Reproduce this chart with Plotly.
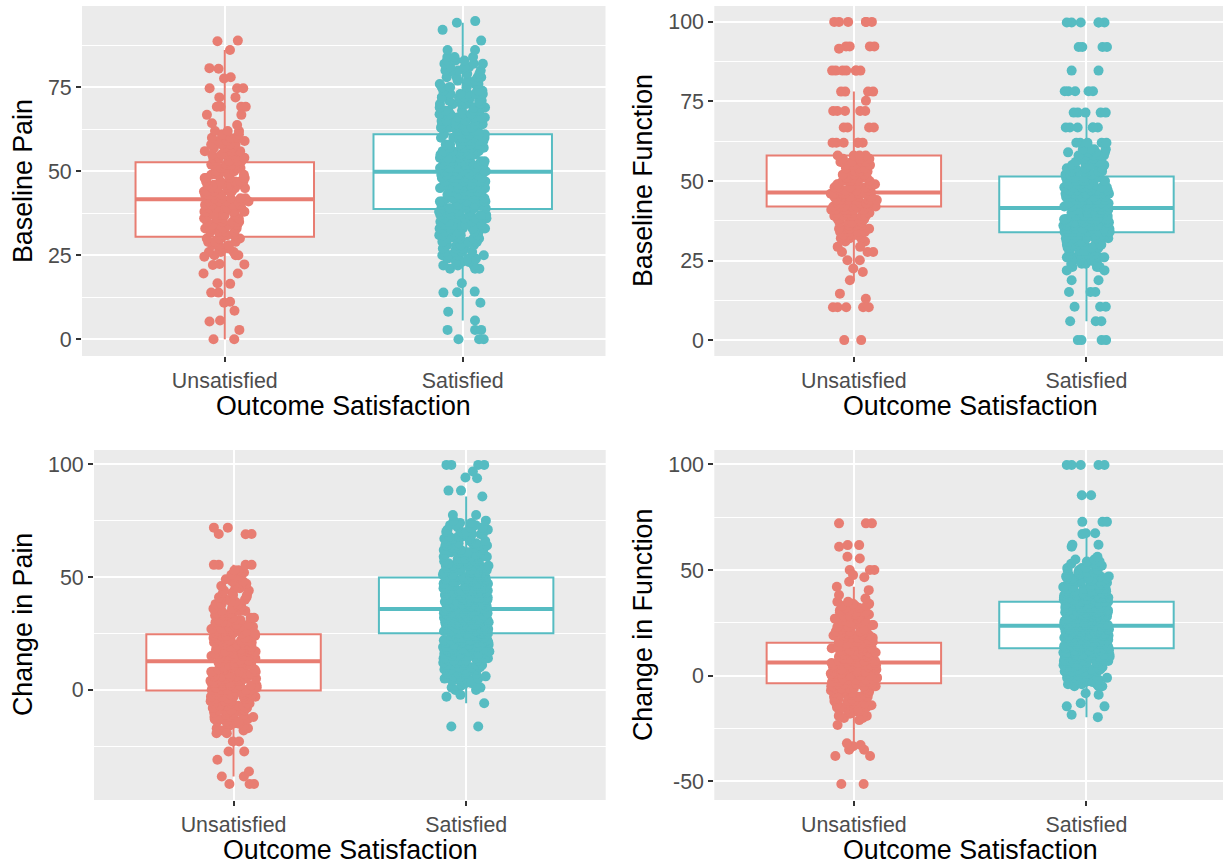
import plotly.graph_objects as go

W, H = 1223, 865
CATS = ["Unsatisfied", "Satisfied"]
COL_UNSAT = "#E87D72"
COL_SAT = "#56BCC2"
FONT = "Liberation Sans, Arial, Helvetica, sans-serif"

Y_TITLES = ["Baseline Pain", "Baseline Function", "Change in Pain", "Change in Function"]
X_TITLE = "Outcome Satisfaction"

# Y tick labels per panel
TICKS_BASE_PAIN = [0, 25, 50, 75]
TICKS_BASE_FUNC = [0, 25, 50, 75, 100]
TICKS_CHG_PAIN = [0, 50, 100]
TICKS_CHG_FUNC = [-50, 0, 50, 100]

# Box statistics: [lower whisker, q1, median, q3, upper whisker]
BOX_BASE_PAIN_UNSAT = [0.0, 30.5, 41.7, 52.7, 86.1]
BOX_BASE_PAIN_SAT = [5.6, 38.8, 49.9, 61.0, 94.2]
BOX_BASE_FUNC_UNSAT = [18.8, 42.0, 46.4, 58.0, 78.1]
BOX_BASE_FUNC_SAT = [5.9, 33.9, 41.5, 51.4, 71.5]
BOX_CHG_PAIN_UNSAT = [-38.4, -0.3, 12.7, 24.7, 55.4]
BOX_CHG_PAIN_SAT = [-5.9, 25.1, 35.8, 49.8, 85.7]
BOX_CHG_FUNC_UNSAT = [-32.0, -3.6, 6.2, 15.6, 42.1]
BOX_CHG_FUNC_SAT = [-19.6, 13.0, 23.7, 35.0, 67.4]

# Observations as (value, number of patients with that value), read from the jittered clouds.
# *_CORE: the dense part of each cloud; *_TAIL: the sparser points read individually.
BASE_PAIN_UNSAT_CORE = [
    (62, 3), (61, 3), (60, 4), (59, 3), (58, 4), (57, 3), (56, 4), (55, 4), (54, 4), (53, 4), (52, 5),
    (51, 5), (50, 5), (49, 5), (48, 5), (47, 5), (46, 5), (45, 5), (44, 5), (43, 5), (42, 6), (41, 6),
    (40, 6), (39, 5), (38, 5), (37, 5), (36, 5), (35, 5), (34, 4), (33, 5), (32, 4), (31, 4), (30, 4),
    (29, 3), (28, 3), (27, 3), (26, 3), (25, 3),
]
BASE_PAIN_UNSAT_TAIL = [
    (88.9, 1), (88.7, 1), (86.1, 1), (80.7, 1), (80.5, 1), (78.0, 1), (77.6, 1), (74.7, 3), (72.0, 2),
    (69.2, 4), (66.8, 2), (64.3, 1), (63.8, 1),
    (24.6, 1), (22.4, 1), (22.3, 1), (22.1, 1), (19.6, 2), (16.7, 1), (16.5, 1), (13.9, 2), (11.2, 1),
    (10.9, 1), (8.5, 1), (5.6, 1), (5.3, 1), (2.8, 1), (0.0, 2),
]
BASE_PAIN_SAT_CORE = [
    (84, 3), (83, 3), (82, 3), (81, 3), (80, 4), (79, 3), (78, 4), (77, 4), (76, 4), (75, 4), (74, 4),
    (73, 5), (72, 5), (71, 5), (70, 5), (69, 5), (68, 5), (67, 6), (66, 6), (65, 6), (64, 6), (63, 7),
    (62, 7), (61, 7), (60, 8), (59, 8), (58, 8), (57, 8), (56, 8), (55, 8), (54, 8), (53, 8), (52, 8),
    (51, 8), (50, 9), (49, 9), (48, 8), (47, 9), (46, 8), (45, 9), (44, 8), (43, 8), (42, 8), (41, 8),
    (40, 8), (39, 8), (38, 7), (37, 7), (36, 6), (35, 6), (34, 6), (33, 6), (32, 5), (31, 5), (30, 5),
    (29, 5), (28, 4), (27, 4), (26, 4), (25, 4), (24, 4), (23, 3), (22, 3), (21, 3),
]
BASE_PAIN_SAT_TAIL = [
    (94.7, 1), (94.2, 1), (92.1, 1), (88.9, 1), (86.1, 2),
    (16.7, 1), (14.2, 1), (14.0, 1), (13.9, 1), (10.9, 1), (8.2, 1), (5.6, 1), (2.8, 3), (0.0, 3),
]
BASE_FUNC_UNSAT_CORE = [
    (58, 4), (57, 4), (56, 4), (55, 4), (54, 5), (53, 5), (52, 5), (51, 5), (50, 6), (49, 6), (48, 6),
    (47, 7), (46, 8), (45, 7), (44, 7), (43, 7), (42, 8), (41, 7), (40, 6), (39, 6), (38, 6), (37, 5),
    (36, 5), (35, 4), (34, 4), (33, 4), (32, 3), (31, 3),
]
BASE_FUNC_UNSAT_TAIL = [
    (100.0, 6), (92.3, 4), (91.6, 1), (84.7, 7), (78.1, 4), (75.2, 1), (72.0, 5), (66.8, 4), (62.0, 6),
    (29.3, 2), (27.7, 3), (25.1, 2), (22.5, 1), (21.4, 1), (18.8, 1), (14.6, 1), (13.0, 1), (10.3, 5),
    (0.0, 2),
]
BASE_FUNC_SAT_CORE = [
    (60, 5), (59, 5), (58, 5), (57, 5), (56, 5), (55, 5), (54, 6), (53, 6), (52, 6), (51, 7), (50, 7),
    (49, 8), (48, 8), (47, 8), (46, 9), (45, 9), (44, 9), (43, 9), (42, 10), (41, 10), (40, 10),
    (39, 9), (38, 9), (37, 9), (36, 9), (35, 9), (34, 9), (33, 8), (32, 8), (31, 7), (30, 7), (29, 6),
    (28, 6), (27, 5), (26, 5), (25, 5), (24, 4), (23, 3),
]
BASE_FUNC_SAT_TAIL = [
    (99.8, 6), (92.1, 4), (84.7, 2), (78.2, 5), (71.5, 5), (66.8, 6), (62.0, 5),
    (21.9, 2), (18.8, 2), (15.1, 3), (10.5, 3), (5.9, 3), (0.0, 4),
]
CHG_PAIN_UNSAT_CORE = [
    (53, 2), (52, 1), (51, 1), (50, 2), (49, 1), (48, 2), (47, 2), (46, 2), (45, 2), (44, 2), (43, 2),
    (42, 2), (41, 3), (40, 2), (39, 2), (38, 3), (37, 2), (36, 3), (35, 3), (34, 3), (33, 3), (32, 3),
    (31, 3), (30, 3), (29, 3), (28, 4), (27, 4), (26, 4), (25, 4), (24, 4), (23, 4), (22, 4), (21, 4),
    (20, 4), (19, 4), (18, 5), (17, 5), (16, 5), (15, 5), (14, 5), (13, 5), (12, 5), (11, 5), (10, 5),
    (9, 5), (8, 5), (7, 5), (6, 5), (5, 5), (4, 5), (3, 5), (2, 5), (1, 5), (0, 5), (-1, 5), (-2, 5),
    (-3, 5), (-4, 4), (-5, 4), (-6, 4), (-7, 4), (-8, 4), (-9, 4), (-10, 4), (-11, 3), (-12, 3),
    (-13, 3), (-14, 3), (-15, 3), (-16, 2), (-17, 2), (-18, 2),
]
CHG_PAIN_UNSAT_TAIL = [
    (71.9, 2), (69.1, 2), (69.0, 1), (55.4, 4),
    (-19.2, 2), (-22.9, 2), (-27.3, 2), (-31.0, 1), (-36.2, 1), (-38.4, 2), (-41.7, 3),
]
CHG_PAIN_SAT_CORE = [
    (75, 2), (74, 2), (73, 3), (72, 3), (71, 3), (70, 4), (69, 4), (68, 4), (67, 4), (66, 4), (65, 4),
    (64, 5), (63, 5), (62, 5), (61, 5), (60, 5), (59, 5), (58, 5), (57, 5), (56, 6), (55, 6), (54, 6),
    (53, 6), (52, 6), (51, 6), (50, 7), (49, 7), (48, 7), (47, 7), (46, 7), (45, 7), (44, 8), (43, 8),
    (42, 8), (41, 8), (40, 8), (39, 8), (38, 9), (37, 9), (36, 9), (35, 9), (34, 9), (33, 9), (32, 9),
    (31, 9), (30, 9), (29, 9), (28, 9), (27, 9), (26, 9), (25, 9), (24, 8), (23, 8), (22, 8), (21, 8),
    (20, 7), (19, 7), (18, 7), (17, 7), (16, 6), (15, 6), (14, 6), (13, 6), (12, 5), (11, 5), (10, 5),
    (9, 5), (8, 4), (7, 4), (6, 3), (5, 3), (4, 3), (3, 2), (2, 2), (1, 2), (0, 2),
]
CHG_PAIN_SAT_TAIL = [
    (99.7, 4), (96.8, 1), (94.1, 1), (93.8, 1), (88.3, 2), (85.7, 1), (77.5, 2),
    (-2.2, 1), (-3.0, 1), (-5.9, 1), (-16.2, 2),
]
CHG_FUNC_UNSAT_CORE = [
    (35, 2), (34, 2), (33, 3), (32, 2), (31, 2), (30, 3), (29, 2), (28, 3), (27, 3), (26, 3), (25, 3),
    (24, 3), (23, 3), (22, 3), (21, 3), (20, 4), (19, 4), (18, 4), (17, 4), (16, 4), (15, 4), (14, 4),
    (13, 4), (12, 5), (11, 5), (10, 5), (9, 5), (8, 5), (7, 5), (6, 5), (5, 5), (4, 5), (3, 5), (2, 5),
    (1, 5), (0, 5), (-1, 5), (-2, 5), (-3, 5), (-4, 5), (-5, 5), (-6, 5), (-7, 4), (-8, 4), (-9, 4),
    (-10, 4), (-11, 4), (-12, 4), (-13, 4), (-14, 3), (-15, 3), (-16, 3), (-17, 3), (-18, 2), (-19, 2),
    (-20, 2),
]
CHG_FUNC_UNSAT_TAIL = [
    (72.1, 3), (61.8, 2), (61.0, 1), (56.3, 1), (55.5, 1), (50.0, 3), (47.6, 1), (46.6, 1), (44.5, 1),
    (42.1, 1), (40.5, 1), (38.2, 1), (36.5, 1),
    (-21.0, 1), (-23.3, 1), (-32.0, 1), (-32.8, 1), (-33.4, 1), (-35.0, 2), (-38.0, 2), (-51.2, 2),
]
CHG_FUNC_SAT_CORE = [
    (55, 2), (54, 2), (53, 3), (52, 3), (51, 3), (50, 4), (49, 4), (48, 4), (47, 5), (46, 5), (45, 5),
    (44, 5), (43, 5), (42, 6), (41, 6), (40, 6), (39, 6), (38, 7), (37, 7), (36, 7), (35, 8), (34, 8),
    (33, 8), (32, 8), (31, 9), (30, 9), (29, 9), (28, 9), (27, 9), (26, 9), (25, 10), (24, 10),
    (23, 10), (22, 10), (21, 10), (20, 10), (19, 10), (18, 9), (17, 9), (16, 9), (15, 9), (14, 9),
    (13, 9), (12, 8), (11, 8), (10, 8), (9, 7), (8, 7), (7, 7), (6, 6), (5, 6), (4, 5), (3, 5), (2, 5),
    (1, 4), (0, 4), (-1, 4), (-2, 4), (-3, 3), (-4, 3), (-5, 3),
]
CHG_FUNC_SAT_TAIL = [
    (99.7, 5), (85.4, 2), (72.8, 3), (67.4, 2), (67.0, 1), (62.0, 2), (61.0, 1), (56.3, 1),
    (-8.3, 1), (-9.0, 1), (-13.0, 1), (-14.5, 2), (-18.5, 1), (-19.6, 1),
]

# Per-row jitter styling so repeated-value rows do not share one identical jitter pattern
ROW_SHIFT = [0.0, 0.4, -0.4, 0.2, -0.2, 0.3, -0.3, 0.1, -0.1, 0.35]
ROW_WIDTH = [0.2, 0.15, 0.15, 0.17, 0.17, 0.16, 0.16, 0.19, 0.19, 0.15]


def expand(freq):
    """Turn a (value, count) frequency table into the list of observations."""
    out = []
    for v, c in freq:
        out.extend([v] * c)
    return out


def point_sets(core, tail, median):
    """Split a cloud into separately-jittered sets so that plotly's density-scaled
    jitter spreads the sparse points as widely as the dense core.
    Returns (values, pointpos, width) tuples."""
    sets = [(expand(core), 0.0, 0.2)]
    hi, lo = [], []
    k = 0
    for v, c in tail:
        if c >= 3:
            sets.append(([v] * c, ROW_SHIFT[k % len(ROW_SHIFT)], ROW_WIDTH[k % len(ROW_WIDTH)]))
            k += 1
        elif v > median:
            hi.extend([v] * c)
        else:
            lo.extend([v] * c)
    return sets + [(s, 0.0, 0.2) for s in (hi, lo) if s]


def fx(px):
    return px / W


def fy(py):
    return 1 - py / H


panels = [
    dict(uc=BASE_PAIN_UNSAT_CORE, ut=BASE_PAIN_UNSAT_TAIL, sc=BASE_PAIN_SAT_CORE, st=BASE_PAIN_SAT_TAIL,
         bu=BOX_BASE_PAIN_UNSAT, bs=BOX_BASE_PAIN_SAT,
         ticks=TICKS_BASE_PAIN, minor=12.5, yr=[-4.97, 99.2], xr=[-0.6, 1.6],
         px=(82, 605.5), py=(6, 356), ytx=23, xtx=343.5, xty=406),
    dict(uc=BASE_FUNC_UNSAT_CORE, ut=BASE_FUNC_UNSAT_TAIL, sc=BASE_FUNC_SAT_CORE, st=BASE_FUNC_SAT_TAIL,
         bu=BOX_BASE_FUNC_UNSAT, bs=BOX_BASE_FUNC_SAT,
         ticks=TICKS_BASE_FUNC, minor=12.5, yr=[-5.0, 105.0], xr=[-0.6, 1.587],
         px=(714.3, 1223), py=(6, 356), ytx=643, xtx=970, xty=406),
    dict(uc=CHG_PAIN_UNSAT_CORE, ut=CHG_PAIN_UNSAT_TAIL, sc=CHG_PAIN_SAT_CORE, st=CHG_PAIN_SAT_TAIL,
         bu=BOX_CHG_PAIN_UNSAT, bs=BOX_CHG_PAIN_SAT,
         ticks=TICKS_CHG_PAIN, minor=25, yr=[-48.8, 106.3], xr=[-0.6, 1.6],
         px=(94, 605.7), py=(450, 800), ytx=23, xtx=350, xty=850),
    dict(uc=CHG_FUNC_UNSAT_CORE, ut=CHG_FUNC_UNSAT_TAIL, sc=CHG_FUNC_SAT_CORE, st=CHG_FUNC_SAT_TAIL,
         bu=BOX_CHG_FUNC_UNSAT, bs=BOX_CHG_FUNC_SAT,
         ticks=TICKS_CHG_FUNC, minor=25, yr=[-58.8, 106.8], xr=[-0.6, 1.587],
         px=(714.3, 1223), py=(450, 800), ytx=643, xtx=970, xty=850),
]

fig = go.Figure()
annotations = []
layout_axes = {}

for i, p in enumerate(panels):
    n = "" if i == 0 else str(i + 1)
    xa, ya = "x" + n, "y" + n
    groups = [(CATS[0], p["uc"], p["ut"], p["bu"], COL_UNSAT),
              (CATS[1], p["sc"], p["st"], p["bs"], COL_SAT)]
    # boxes (white filled, no whisker caps), then a thicker median line
    for cat, core, tail, st, col in groups:
        fig.add_trace(go.Box(
            x=[cat], lowerfence=[st[0]], q1=[st[1]], median=[st[2]], q3=[st[3]], upperfence=[st[4]],
            width=0.75, fillcolor="white", line=dict(color=col, width=2), whiskerwidth=0,
            boxpoints=False, xaxis=xa, yaxis=ya, hoverinfo="skip", showlegend=False))
        fig.add_trace(go.Box(
            x=[cat], lowerfence=[st[2]], q1=[st[2]], median=[st[2]], q3=[st[2]], upperfence=[st[2]],
            width=0.75, fillcolor="rgba(0,0,0,0)", line=dict(color=col, width=4), whiskerwidth=0,
            boxpoints=False, xaxis=xa, yaxis=ya, hoverinfo="skip", showlegend=False))
    # jittered points on top
    for cat, core, tail, st, col in groups:
        for vals, ppos, wid in point_sets(core, tail, st[2]):
            fig.add_trace(go.Box(
                x=[cat] * len(vals), y=vals, boxpoints="all", jitter=1, pointpos=ppos, width=wid,
                fillcolor="rgba(0,0,0,0)", line=dict(color="rgba(0,0,0,0)", width=0),
                marker=dict(color=col, size=10, opacity=1, line=dict(width=0)),
                xaxis=xa, yaxis=ya, hoverinfo="y", showlegend=False))

    layout_axes["xaxis" + n] = dict(
        domain=[fx(p["px"][0]), fx(p["px"][1])], anchor=ya, type="category",
        categoryorder="array", categoryarray=CATS, range=p["xr"],
        showgrid=True, gridcolor="white", gridwidth=2, zeroline=False, showline=False,
        ticks="outside", ticklen=5, tickwidth=1.5, tickcolor="#333333",
        tickfont=dict(family=FONT, size=21.4, color="#4D4D4D"))
    layout_axes["yaxis" + n] = dict(
        domain=[fy(p["py"][1]), fy(p["py"][0])], anchor=xa, range=p["yr"],
        tickmode="array", tickvals=p["ticks"], ticktext=[str(t) for t in p["ticks"]],
        showgrid=True, gridcolor="white", gridwidth=2, zeroline=False, showline=False,
        ticks="outside", ticklen=5, tickwidth=1.5, tickcolor="#333333",
        tickfont=dict(family=FONT, size=21.4, color="#4D4D4D"),
        minor=dict(tick0=0, dtick=p["minor"], showgrid=True, gridcolor="white", gridwidth=1, ticks=""))

    annotations.append(dict(
        text=Y_TITLES[i], textangle=-90, xref="paper", yref="paper",
        x=fx(p["ytx"]), y=fy((p["py"][0] + p["py"][1]) / 2), xanchor="center", yanchor="middle",
        showarrow=False, font=dict(family=FONT, size=26.8, color="black")))
    annotations.append(dict(
        text=X_TITLE, xref="paper", yref="paper",
        x=fx(p["xtx"]), y=fy(p["xty"]), xanchor="center", yanchor="middle",
        showarrow=False, font=dict(family=FONT, size=26.8, color="black")))

fig.update_layout(
    width=W, height=H, autosize=False,
    margin=dict(l=0, r=0, t=0, b=0),
    paper_bgcolor="white", plot_bgcolor="#EBEBEB",
    boxmode="overlay", showlegend=False,
    annotations=annotations,
    font=dict(family=FONT),
    **layout_axes,
)

fig.write_html("out.html")
